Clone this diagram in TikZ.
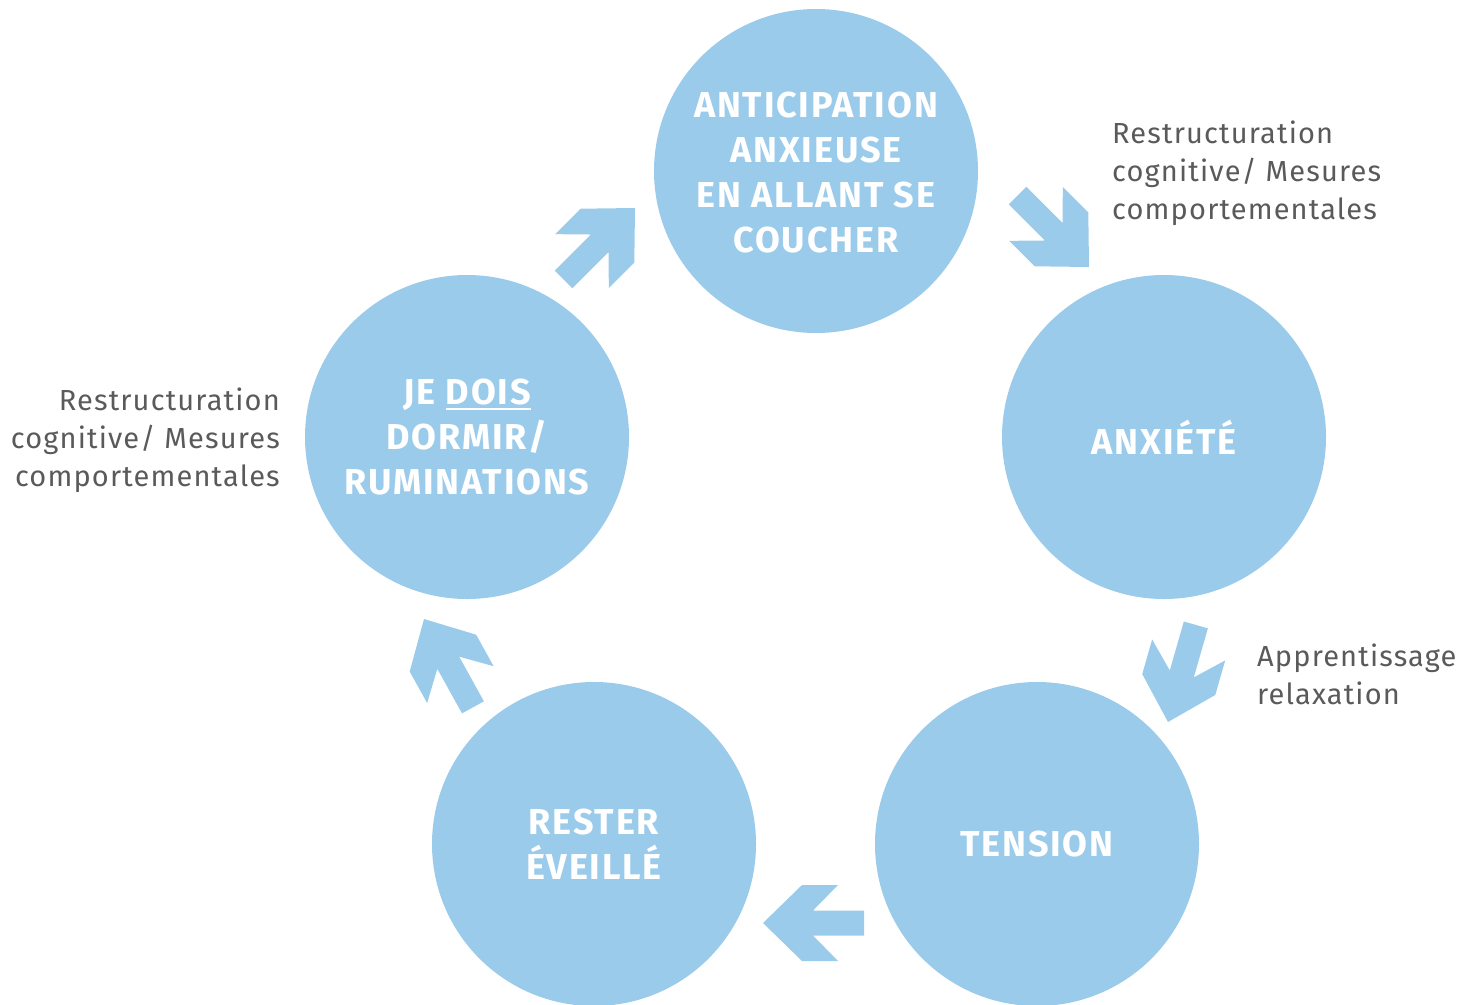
\documentclass[tikz,border=0pt]{standalone}
\usepackage{fontspec}
\setmainfont{Fira Sans}
\newfontfamily\stagefont[LetterSpace=5]{Fira Sans}
\newfontfamily\notefont[LetterSpace=4]{Fira Sans}
\definecolor{bubble}{HTML}{9BCBEA}
\definecolor{note}{HTML}{5A5A5A}
% underline drawn as a rule a little below the baseline
\newcommand\dunderline[1]{\setbox0\hbox{#1}\rlap{\rule[-6pt]{\wd0}{2.4pt}}\box0}

\begin{document}
\begin{tikzpicture}[x=1pt,y=-1pt,
  stage/.style={circle,fill=bubble,minimum size=324pt,inner sep=0pt,
    text=white,align=center,font=\stagefont\bfseries\fontsize{36}{45}\selectfont},
  notetext/.style={text=note,inner sep=0pt,font=\notefont\fontsize{29}{38}\selectfont},
  cyclearrow/.pic={
    \fill[bubble] (0,0) -- (-39,38) -- (-75,38) -- (-50,12.5) -- (-101,12.5)
      -- (-101,-12.5) -- (-50,-12.5) -- (-75,-38) -- (-39,-38) -- cycle;
  }]
\useasboundingbox (0,0) rectangle (1463,1004);

% the five stages of the cycle
\node[stage] (anticipation) at (816,171) {};
\node[stage,fill=none] (anticipationtext) at (816,173) {ANTICIPATION\\ANXIEUSE\\EN ALLANT SE\\COUCHER};
\node[stage] (anxiete) at (1164,437) {ANXIÉTÉ};
\node[stage] (tension) at (1037,844) {TENSION};
\node[stage] (eveille) at (594,844) {RESTER\\ÉVEILLÉ};
\node[stage] (dormir) at (467,437) {JE \dunderline{DOIS}\\DORMIR/\\RUMINATIONS};

% block arrows, placed at their tips
\pic[rotate=-45] at (1089,267) {cyclearrow};
\pic[rotate=-106] at (1168,722) {cyclearrow};
\pic[rotate=180] at (763,923) {cyclearrow};
\pic[rotate=119] at (424,619) {cyclearrow};
\pic[rotate=45] at (635,208) {cyclearrow};

% interventions
\node[notetext,anchor=north west,align=left] (noteA) at (1112,121)
  {Restructuration\\cognitive/ Mesures\\comportementales};
\node[notetext,anchor=north west,align=left] (noteB) at (1257,644)
  {Apprentissage\\relaxation};
\node[notetext,anchor=north east,align=right] (noteC) at (280,388)
  {Restructuration\\cognitive/ Mesures\\comportementales};
\end{tikzpicture}
\end{document}
